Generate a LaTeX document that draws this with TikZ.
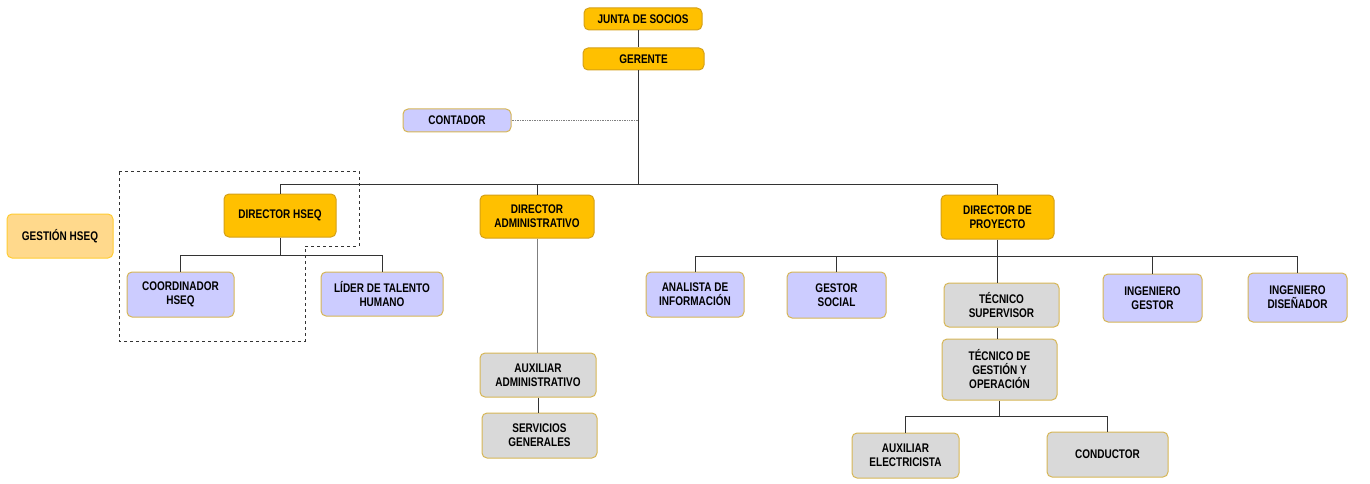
\documentclass[tikz,border=0pt]{standalone}
\usepackage{fontspec}
\setmainfont{Liberation Sans}[FakeStretch=0.8]
\definecolor{goldf}{HTML}{FFC000}
\definecolor{goldd}{HTML}{D4A017}
\definecolor{lavf}{HTML}{CCCCFF}
\definecolor{edgec}{HTML}{D6B656}
\definecolor{grayf}{HTML}{D9D9D9}
\definecolor{lightf}{HTML}{FFD98C}
\definecolor{lightd}{HTML}{FFCC33}
\definecolor{linec}{HTML}{333333}
\definecolor{linel}{HTML}{7F7F7F}
\tikzset{
  box/.style={line width=1pt, rounded corners=5pt, align=center, inner sep=1pt,
    font=\bfseries\fontsize{12.5}{14}\selectfont},
  goldbox/.style={box, fill=goldf, draw=goldd},
  lavbox/.style={box, fill=lavf, draw=edgec},
  graybox/.style={box, fill=grayf, draw=edgec},
  lightbox/.style={box, fill=lightf, draw=lightd},
  link/.style={draw=linec, line width=0.9pt},
  lightlink/.style={draw=linel, line width=1pt},
  dotlink/.style={draw=gray, line width=0.7pt, densely dotted},
  groupline/.style={draw=linec, line width=0.8pt, dashed}
}
\begin{document}
\begin{tikzpicture}[x=1pt,y=-1pt]
\useasboundingbox (0,0) rectangle (1370,484);
% nodes
\node[goldbox, minimum width=118, minimum height=22] (junta) at (643,19) {JUNTA DE SOCIOS};
\node[goldbox, minimum width=121, minimum height=22] (gerente) at (643.5,59) {GERENTE};
\node[lavbox, minimum width=108, minimum height=23] (contador) at (457,120.5) {CONTADOR};
\node[lightbox, minimum width=106, minimum height=44] (gestion) at (60,236) {GESTIÓN HSEQ};
\node[goldbox, minimum width=112, minimum height=43] (dirhseq) at (280,215.5) {DIRECTOR HSEQ};
\node[goldbox, minimum width=114, minimum height=43] (diradm) at (537,216.5) {DIRECTOR\\ADMINISTRATIVO};
\node[goldbox, minimum width=113, minimum height=44] (dirproy) at (997.5,217) {DIRECTOR DE\\PROYECTO};
\node[lavbox, minimum width=107, minimum height=45] (coord) at (180.5,294.5) {COORDINADOR\\HSEQ};
\node[lavbox, minimum width=122, minimum height=44] (lider) at (382,294) {LÍDER DE TALENTO\\HUMANO};
\node[graybox, minimum width=116, minimum height=44] (auxadm) at (538,375) {AUXILIAR\\ADMINISTRATIVO};
\node[graybox, minimum width=115, minimum height=45] (serv) at (539.5,435.5) {SERVICIOS\\GENERALES};
\node[lavbox, minimum width=98, minimum height=45] (analista) at (695,294.5) {ANALISTA DE\\INFORMACIÓN};
\node[lavbox, minimum width=99, minimum height=46] (gestor) at (836.5,295) {GESTOR\\SOCIAL};
\node[graybox, minimum width=115, minimum height=44] (tecsup) at (1001.5,305) {TÉCNICO\\SUPERVISOR};
\node[lavbox, minimum width=99, minimum height=48] (inggest) at (1152.5,298) {INGENIERO\\GESTOR};
\node[lavbox, minimum width=99, minimum height=49] (ingdis) at (1297.5,297.5) {INGENIERO\\DISEÑADOR};
\node[graybox, minimum width=115, minimum height=61] (tecgest) at (999.5,369.5) {TÉCNICO DE\\GESTIÓN Y\\OPERACIÓN};
\node[graybox, minimum width=107, minimum height=45] (auxelec) at (905.5,455.5) {AUXILIAR\\ELECTRICISTA};
\node[graybox, minimum width=121, minimum height=45] (cond) at (1107.5,454.5) {CONDUCTOR};
% helper coordinates
\coordinate (trunk) at (638,0);
\coordinate (bus) at (0,184);
\coordinate (hbus) at (0,255);
\coordinate (pbus) at (0,256);
\coordinate (ebus) at (0,416);
% connectors
\draw[link] (junta.south -| trunk) -- (gerente.north -| trunk);
\draw[link] (gerente.south -| trunk) -- (trunk |- bus);
\draw[dotlink] (contador.east) -- (contador.east -| trunk);
\draw[link] (dirhseq.north) |- (dirproy.north |- bus) -- (dirproy.north);
\draw[link] (diradm.north) -- (diradm.north |- bus);
\draw[link] (dirhseq.south) -- (dirhseq.south |- hbus);
\draw[link] (coord.north) |- (lider.north |- hbus) -- (lider.north);
\draw[lightlink] (diradm.south) -- (diradm.south |- auxadm.north);
\draw[link] (auxadm.south) -- (auxadm.south |- serv.north);
\draw[link] (dirproy.south) -- (dirproy.south |- tecsup.north);
\draw[link] (analista.north) |- (ingdis.north |- pbus) -- (ingdis.north);
\draw[link] (gestor.north) -- (gestor.north |- pbus);
\draw[link] (inggest.north) -- (inggest.north |- pbus);
\draw[link] (tecsup.south -| dirproy) -- (tecgest.north -| dirproy);
\draw[link] (tecgest.south) -- (tecgest.south |- ebus);
\draw[link] (auxelec.north) |- (cond.north |- ebus) -- (cond.north);
% dashed group outline
\draw[groupline] (119,171) -- (359,171) -- (359,246) -- (305,246) -- (305,341) -- (119,341) -- cycle;
\end{tikzpicture}
\end{document}
